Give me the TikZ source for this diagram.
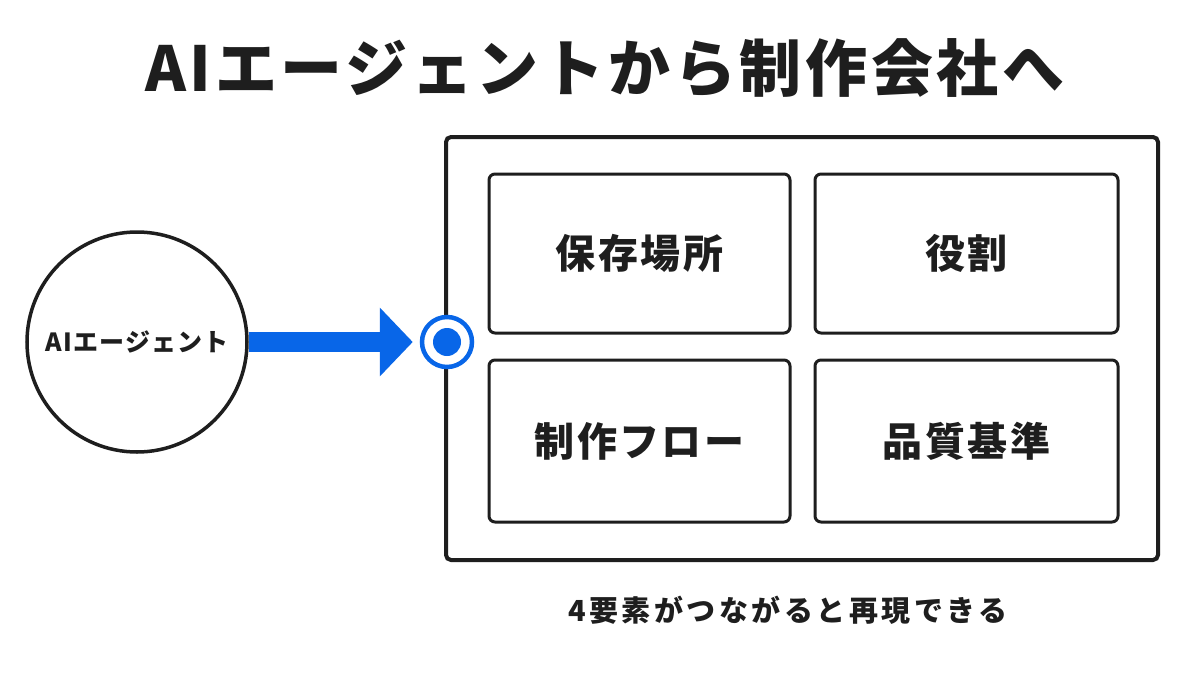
\documentclass[tikz,border=0pt]{standalone}
\usepackage{fontspec}
\usetikzlibrary{arrows.meta}
\newfontfamily\jptitle{Noto Sans CJK JP Black}[LetterSpace=6]
\newfontfamily\jpcard{Noto Sans CJK JP Black}[LetterSpace=6]
\newfontfamily\jpcirc{Noto Sans CJK JP Black}[LetterSpace=5]
\newfontfamily\jpnote{Noto Sans CJK JP Black}[LetterSpace=12]
\definecolor{myblue}{RGB}{8,102,232}
\definecolor{ink}{RGB}{30,30,30}
\begin{document}
\begin{tikzpicture}[x=1pt,y=-1pt,
  card/.style={draw=ink,line width=3pt,rounded corners=6pt,inner sep=0pt},
  cardtext/.style={font=\jpcard\fontsize{40}{40}\selectfont,text=ink}]
\fill[white] (0,0) rectangle (1200,675);
\useasboundingbox (0,0) rectangle (1200,675);
\node[font=\jptitle\fontsize{62}{62}\selectfont,text=ink] (title) at (605,68) {AIエージェントから制作会社へ};
\node[draw=ink,line width=3.5pt,circle,minimum size=220pt,inner sep=0pt,font=\jpcirc\fontsize{25}{25}\selectfont,text=ink] (agent) at (137,342) {AIエージェント};
\node[draw=ink,line width=4pt,rounded corners=5pt,minimum width=712pt,minimum height=423pt,inner sep=0pt] (frame) at (802,348.5) {};
\node[card,minimum width=301pt,minimum height=159pt,cardtext] (b1) at (639.5,253.5) {保存場所};
\node[card,minimum width=303pt,minimum height=159pt,cardtext] (b2) at (966.5,253.5) {役割};
\node[card,minimum width=301pt,minimum height=162pt,cardtext] (b3) at (639.5,441) {制作フロー};
\node[card,minimum width=303pt,minimum height=162pt,cardtext] (b4) at (966.5,441) {品質基準};
\node[circle,draw=myblue,fill=white,line width=4.5pt,minimum size=50pt,inner sep=0pt] (target) at (447,342) {};
\node[circle,fill=myblue,minimum size=28pt,inner sep=0pt] (dot) at (target.center) {};
\draw[myblue,line width=20pt,-{Triangle[length=33pt,width=67pt]},shorten >=7pt] (agent.east) -- (target.west);
\node[font=\jpnote\fontsize{29}{29}\selectfont,text=ink] (note) at (788,610) {4要素がつながると再現できる};
\end{tikzpicture}
\end{document}
